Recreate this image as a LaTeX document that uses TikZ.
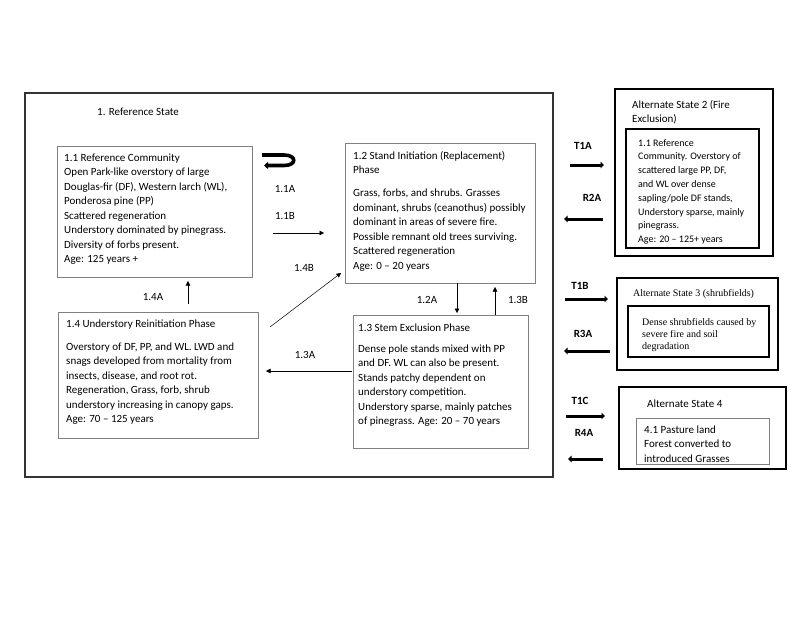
\documentclass[tikz,border=0pt]{standalone}
\usepackage{fontspec}
\setmainfont{Carlito}
\newfontfamily\timesf{Liberation Serif}
\usetikzlibrary{arrows.meta,fit}
\begin{document}
\begin{tikzpicture}[x=1pt,y=-1pt,
  phase/.style={draw=black!50,line width=0.8pt,inner sep=0pt},
  mainbox/.style={draw=black!80,line width=1.3pt,inner sep=0pt},
  statebox/.style={draw=black,line width=1.3pt,inner sep=0pt},
  innerbox/.style={draw=black,line width=1.4pt,inner sep=0pt},
  txt/.style={anchor=north west,inner sep=0pt,align=left,font=\fontsize{11}{14.5}\selectfont},
  lbl/.style={inner sep=0pt,font=\fontsize{11}{13}\selectfont},
  blbl/.style={inner sep=0pt,font=\fontsize{11}{13}\selectfont\bfseries},
  thinarrow/.style={line width=0.5pt,-{Triangle[length=4.5pt,width=4.5pt]}},
  thickarrow/.style={line width=3pt,-{Triangle[length=3.5pt,width=6.5pt]}}
]
\useasboundingbox[fill=white] (0,0) rectangle (800,618);

% main state box
\node[mainbox, fit={(25,93)(553,477)}] (ref) {};
\node[lbl, anchor=base west] (reftitle) at (97,115) {1. Reference State};

% phase boxes
\node[phase, fit={(57,146)(252,277)}] (b11) {};
\node[phase, fit={(345,143)(535,283)}] (b12) {};
\node[phase, fit={(353,315)(528,448)}] (b13) {};
\node[phase, fit={(58,312)(258,438)}] (b14) {};

\node[txt] (t11) at (64,150.85) {\strut 1.1 Reference Community\\
Open Park-like overstory of large\\
Douglas-fir (DF), Western larch (WL),\\
Ponderosa pine (PP)\\
Scattered regeneration\\
Understory dominated by pinegrass.\\
Diversity of forbs present.\\
Age: 125 years +};

\node[txt] (t12) at (353,148.85) {\strut 1.2 Stand Initiation (Replacement)\\
Phase\\[8.5pt]
Grass, forbs, and shrubs. Grasses\\
dominant, shrubs (ceanothus) possibly\\
dominant in areas of severe fire.\\
Possible remnant old trees surviving.\\
Scattered regeneration\\
Age: 0 -- 20 years};

\node[txt] (t13) at (358,320.85) {\strut 1.3 Stem Exclusion Phase\\[6.5pt]
Dense pole stands mixed with PP\\
and DF. WL can also be present.\\
Stands patchy dependent on\\
understory competition.\\
Understory sparse, mainly patches\\
of pinegrass. Age: 20 -- 70 years};

\node[txt] (t14) at (66,316.85) {\strut 1.4 Understory Reinitiation Phase\\[8.5pt]
Overstory of DF, PP, and WL. LWD and\\
snags developed from mortality from\\
insects, disease, and root rot.\\
Regeneration, Grass, forb, shrub\\
understory increasing in canopy gaps.\\
Age: 70 -- 125 years};

% internal transitions
\coordinate (p11a) at (262,155);
\coordinate (p11b) at (264,165.5);
\draw[line width=3.6pt,-{Triangle[length=4pt,width=7pt]}] (p11a) -- (284,155) .. controls (297,155) and (297,165.5) .. (284,165.5) -- (p11b);
\node[lbl] (l11a) at (285,189) {1.1A};

\coordinate (p11bs) at (273,233);
\coordinate (p11be) at (324,233);
\draw[thinarrow] (p11bs) -- (p11be);
\node[lbl] (l11b) at (285,216) {1.1B};

\coordinate (p14bs) at (270,327);
\coordinate (p14be) at (341,273);
\draw[thinarrow] (p14bs) -- (p14be);
\node[lbl] (l14b) at (304,268) {1.4B};

\coordinate (p14as) at (188,304);
\coordinate (p14ae) at (188,281);
\draw[thinarrow] (p14as) -- (p14ae);
\node[lbl] (l14a) at (153,297) {1.4A};

\coordinate (p13as) at (352,371);
\coordinate (p13ae) at (266,371);
\draw[thinarrow] (p13as) -- (p13ae);
\node[lbl] (l13a) at (305,355) {1.3A};

\coordinate (p12as) at (457,283);
\coordinate (p12ae) at (457,313);
\draw[thinarrow] (p12as) -- (p12ae);
\node[lbl] (l12a) at (427,300) {1.2A};

\coordinate (p13bs) at (495,315);
\coordinate (p13be) at (495,287);
\draw[thinarrow] (p13bs) -- (p13be);
\node[lbl] (l13b) at (518,300) {1.3B};

% alternate state 2
\node[statebox, fit={(615,89)(773,256)}] (s2) {};
\node[innerbox, fit={(626,129)(759,248)}] (s2i) {};
\node[txt, font=\fontsize{11}{14}\selectfont] (s2t) at (632,98.2) {\strut Alternate State 2 (Fire\\Exclusion)};
\node[txt, font=\fontsize{10}{13.8}\selectfont] (s2b) at (638,136.3) {\strut 1.1 Reference\\
Community. Overstory of\\
scattered large PP, DF,\\
and WL over dense\\
sapling/pole DF stands,\\
Understory sparse, mainly\\
pinegrass.\\
Age: 20 -- 125+ years};

% alternate state 3
\node[statebox, fit={(617,278)(778,370)}] (s3) {};
\node[innerbox, line width=1.6pt, fit={(628,306)(769,357)}] (s3i) {};
\node[inner sep=0pt, anchor=base west, font=\timesf\fontsize{10}{12}\selectfont] (s3t) at (633,296.5) {Alternate State 3 (shrubfields)};
\node[txt, font=\timesf\fontsize{10}{12}\selectfont] (s3b) at (642,316.6) {\strut Dense shrubfields caused by\\
severe fire and soil\\
degradation};

% alternate state 4
\node[statebox, fit={(619,387)(786,469)}] (s4) {};
\node[phase, fit={(636,418)(769,464)}] (s4i) {};
\node[lbl, anchor=base west] (s4t) at (647,407) {Alternate State 4};
\node[txt] (s4b) at (644,422.85) {\strut 4.1 Pasture land\\
Forest converted to\\
introduced Grasses};

% transitions between states
\coordinate (t1as) at (570,165); \coordinate (t1ae) at (604,165);
\draw[thickarrow] (t1as) -- (t1ae);
\node[blbl] (lt1a) at (583,146) {T1A};
\coordinate (r2as) at (603,219); \coordinate (r2ae) at (564,219);
\draw[thickarrow] (r2as) -- (r2ae);
\node[blbl] (lr2a) at (592,198) {R2A};

\coordinate (t1bs) at (565,299); \coordinate (t1be) at (608,299);
\draw[thickarrow] (t1bs) -- (t1be);
\node[blbl] (lt1b) at (580,286) {T1B};
\coordinate (r3as) at (610,351); \coordinate (r3ae) at (564,351);
\draw[thickarrow] (r3as) -- (r3ae);
\node[blbl] (lr3a) at (583,334) {R3A};

\coordinate (t1cs) at (566,416); \coordinate (t1ce) at (605,416);
\draw[thickarrow] (t1cs) -- (t1ce);
\node[blbl] (lt1c) at (580,401) {T1C};
\coordinate (r4as) at (603,459); \coordinate (r4ae) at (568,459);
\draw[thickarrow] (r4as) -- (r4ae);
\node[blbl] (lr4a) at (584,433) {R4A};
\end{tikzpicture}
\end{document}
